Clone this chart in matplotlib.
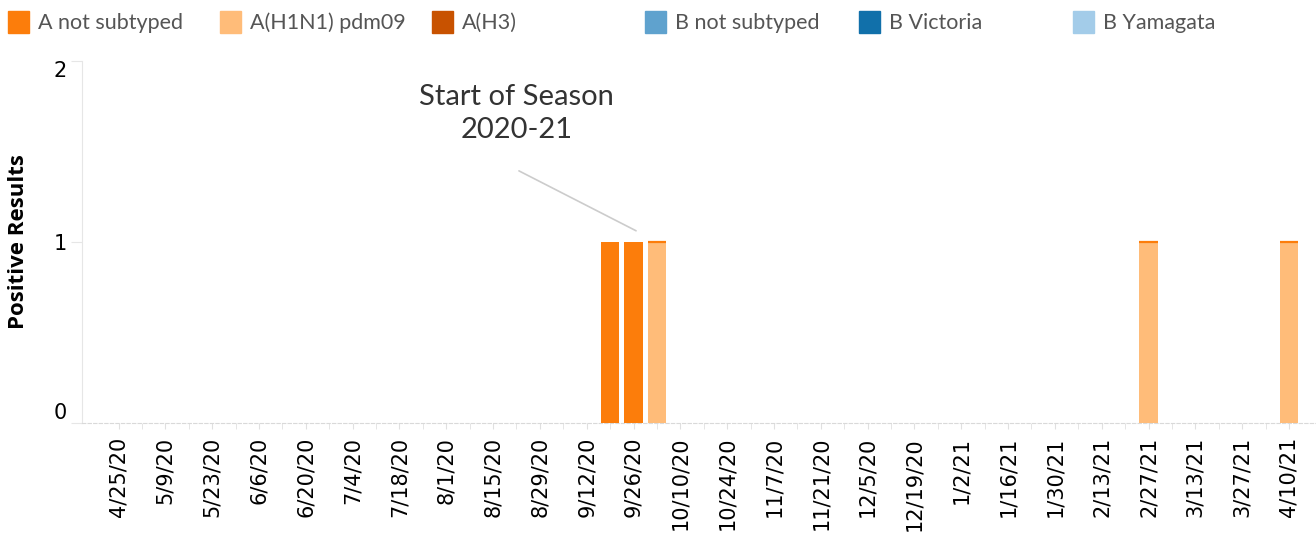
import datetime as dt

import numpy as np
import pandas as pd

import matplotlib
matplotlib.use("Agg")
import matplotlib.pyplot as plt
import matplotlib.dates as mdates
from matplotlib.patches import Rectangle

# weekly data, week ending dates
weeks = pd.date_range("2020-04-25", "2021-04-10", freq="7D")

series_names = ["A not subtyped", "A(H1N1) pdm09", "A(H3)",
                "B not subtyped", "B Victoria", "B Yamagata"]
series_colors = ["#fc7d0b", "#ffbc79", "#c85200", "#5fa2ce", "#1170aa", "#a3cce9"]

a_not_subtyped = {"2020-09-19": 1, "2020-09-26": 1}
a_h1n1 = {"2020-10-03": 1, "2021-02-27": 1, "2021-04-10": 1}
a_h3 = {}
b_not_subtyped = {}
b_victoria = {}
b_yamagata = {}


def to_series(d):
    s = pd.Series(0.0, index=weeks)
    for k, v in d.items():
        s[pd.Timestamp(k)] = v
    return s


series = [to_series(d) for d in (a_not_subtyped, a_h1n1, a_h3,
                                 b_not_subtyped, b_victoria, b_yamagata)]

fig = plt.figure(figsize=(13.16, 5.37), dpi=100)
ax = fig.add_axes([82 / 1316, 1 - 423 / 537, 1 - 82 / 1316, (423 - 61) / 537])

x = mdates.date2num(weeks.to_pydatetime())
bar_w = 5.4
bottom = np.zeros(len(weeks))
for s, c in zip(series, series_colors):
    vals = s.values
    ax.bar(x, vals, width=bar_w, bottom=bottom, color=c, linewidth=0, zorder=3)
    bottom += vals

# thin orange cap tableau draws on the H1N1-only bars
cap = (series[1].values > 0)
ax.bar(x[cap], 0, width=bar_w, bottom=bottom[cap], color=series_colors[0],
       edgecolor=series_colors[0], linewidth=1.6, zorder=4)

ax.set_xlim(mdates.date2num(dt.datetime(2020, 4, 14, 2)),
            mdates.date2num(dt.datetime(2021, 4, 18, 2)))
ax.set_ylim(0, 2)

# axes styling
for side in ("top", "right"):
    ax.spines[side].set_visible(False)
ax.spines["left"].set_color("#e6e6e6")
ax.spines["bottom"].set_color("#d9d9d9")
ax.spines["bottom"].set_linestyle((0, (3, 2)))

ax.set_xticks(x[::2])
ax.set_xticklabels([f"{d.month}/{d.day}/{d.year % 100}" for d in weeks[::2]],
                   rotation=90, fontsize=15, family="DejaVu Sans")
ax.set_xticks(x, minor=True)
ax.tick_params(axis="x", which="both", length=4, color="#e0e0e0", pad=6)

ax.set_yticks([0, 1, 2])
ax.set_yticklabels(["0", "1", "2"], fontsize=15)
ax.tick_params(axis="y", length=8, color="#e6e6e6", pad=3)
ylabs = ax.get_yticklabels()
ylabs[0].set_va("bottom")
ylabs[2].set_va("top")

ax.set_ylabel("Positive Results", fontsize=16, fontweight="bold",
              family="Open Sans")
ax.yaxis.set_label_coords(-53 / (1316 - 82), 0.5)

# annotation
ax.text(mdates.date2num(dt.datetime(2020, 8, 22)), 1.71,
        "Start of Season\n2020-21", ha="center", va="center",
        fontsize=21, color="#333333", family="Lato", linespacing=1.3)
ax.annotate("", xy=(mdates.date2num(dt.datetime(2020, 9, 27, 12)), 1.055),
            xytext=(mdates.date2num(dt.datetime(2020, 8, 22)), 1.40),
            arrowprops=dict(arrowstyle="-", color="#cccccc", lw=1.2))

# legend across the top
legend_x = [8, 220, 432, 645, 859, 1073]
for lx, name, col in zip(legend_x, series_names, series_colors):
    fig.patches.append(Rectangle((lx / 1316, 1 - 33 / 537), 21 / 1316, 22 / 537,
                                 transform=fig.transFigure, color=col))
    fig.text((lx + 30) / 1316, 1 - 23 / 537, name, fontsize=15.5,
             family="Lato", color="#555555", va="center", ha="left")

fig.savefig("out.png", dpi=100)
